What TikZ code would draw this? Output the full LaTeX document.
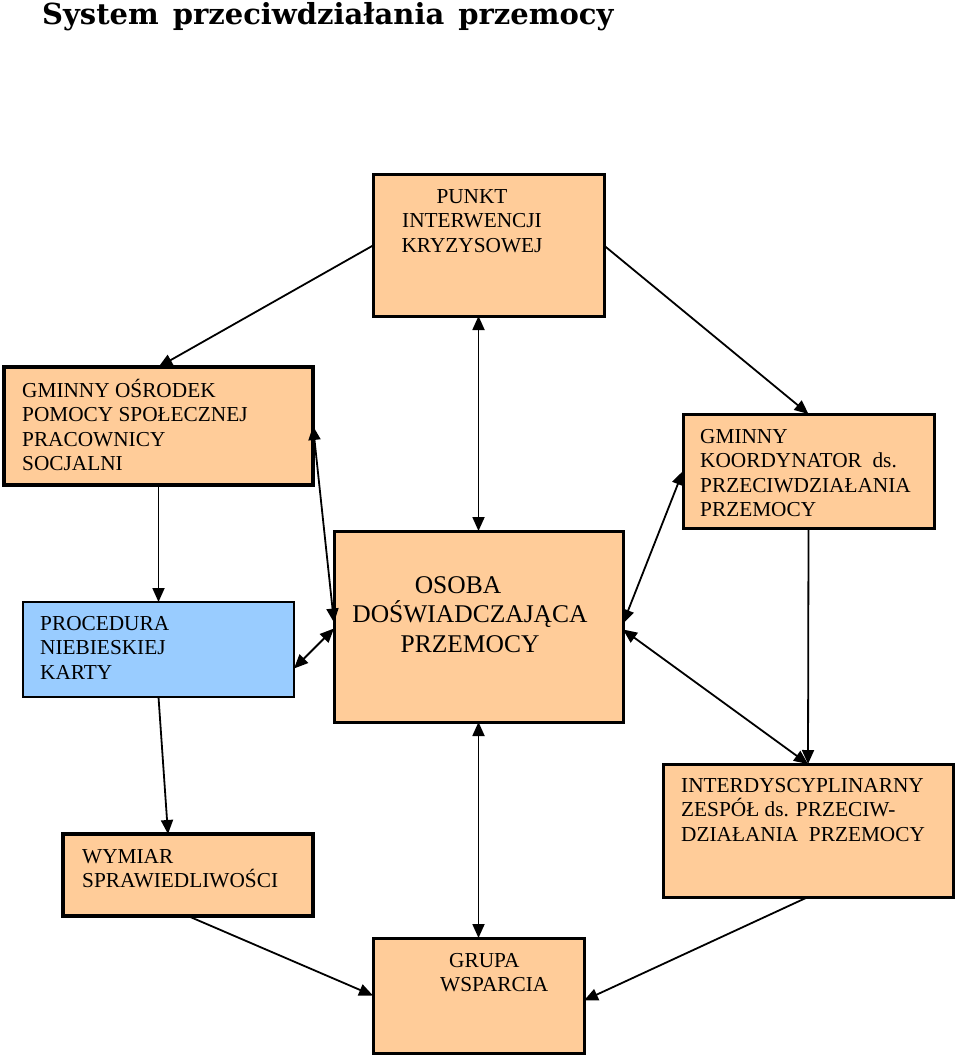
\documentclass[tikz,border=0pt]{standalone}
\usepackage{fontspec}
\setmainfont{Liberation Serif}
\newfontfamily\titlefont{DejaVu Serif}
\usetikzlibrary{arrows.meta,calc}
\definecolor{peach}{HTML}{FFCC99}
\definecolor{skyblue}{HTML}{99CCFF}
\begin{document}
\begin{tikzpicture}[x=1pt,y=-1pt,
  box/.style 2 args={draw=black, line width=3pt, fill=peach, inner sep=0pt, outer sep=0pt, minimum width=#1pt, minimum height=#2pt},
  txt/.style={inner sep=0pt, align=left, anchor=base west, font=\fontsize{21.3pt}{24.6pt}\selectfont},
  ctxt/.style={inner sep=0pt, align=center, anchor=base, font=\fontsize{21.3pt}{24.6pt}\selectfont},
  tip/.tip={Triangle[length=14pt,width=12pt]},
  arr/.style={line width=1.8pt, -tip},
  darr/.style={line width=1.8pt, tip-tip}]
\useasboundingbox (0,0) rectangle (960,1059);
% title
\node[inner sep=0pt, anchor=base west, font=\titlefont\bfseries\fontsize{29pt}{32pt}\selectfont] (title) at (42,25) {System\hspace{14pt}przeciwdziałania\hspace{14pt}przemocy};
% boxes
\node[box={231}{141}] (punkt) at (488.5,245.5) {};
\node[box={309}{118}, line width=4pt] (gops) at (158.5,426) {};
\node[box={251}{114}] (koord) at (808.5,471) {};
\node[box={271}{95}, line width=1.5pt, fill=skyblue] (proc) at (158.5,649.5) {};
\node[box={289}{191}] (osoba) at (478.5,626.5) {};
\node[box={290}{133}] (inter) at (808,830.5) {};
\node[box={250}{82}, line width=3.5pt] (wymiar) at (188,875) {};
\node[box={211}{115}] (grupa) at (478.5,995.5) {};
% texts (anchor = baseline of the last line)
\node[ctxt] (punktT) at (472,252.2) {PUNKT\\INTERWENCJI\\KRYZYSOWEJ};
\node[txt] (gopsT) at (22,470.8) {GMINNY OŚRODEK\\POMOCY SPOŁECZNEJ\\PRACOWNICY\\SOCJALNI};
\node[txt] (koordT) at (700,516.8) {GMINNY\\KOORDYNATOR\ \ ds.\\PRZECIWDZIAŁANIA\\PRZEMOCY};
\node[txt] (procT) at (40,679.2) {PROCEDURA\\NIEBIESKIEJ\\KARTY};
\node[ctxt, font=\fontsize{25.5pt}{29.5pt}\selectfont] (osobaT) at (470,652) {OSOBA\hspace*{24pt}\\DOŚWIADCZAJĄCA\\PRZEMOCY};
\node[txt] (interT) at (681,841.2) {INTERDYSCYPLINARNY\\ZESPÓŁ ds. PRZECIW-\\DZIAŁANIA\ \ PRZEMOCY};
\node[txt] (wymiarT) at (82,887.6) {WYMIAR\\SPRAWIEDLIWOŚCI};
\node[txt] (grupaT) at (440,991.6) {\hspace*{9pt}GRUPA\\WSPARCIA};
% connectors
\draw[arr] (punkt.west) -- (gops.north);
\draw[arr] (punkt.east) -- (koord.north);
\draw[darr] (osoba.north) -- (osoba.north |- punkt.south);
\draw[darr] (gops.east) -- ([yshift=4pt]osoba.west);
\draw[arr] (gops.south) -- (proc.north);
\coordinate (procR) at ($(proc.south east)!0.3!(proc.north east)$);
\draw[darr] (procR) -- ([yshift=-2pt]osoba.west);
\draw[darr] (koord.west) -- ([yshift=3pt]osoba.east);
\draw[darr] ([yshift=-3pt]osoba.east) -- (inter.north);
\draw[arr] (koord.south) -- (inter.north);
\coordinate (wymiarTop) at ([xshift=-20pt]wymiar.north);
\draw[arr] (proc.south) -- (wymiarTop);
\draw[darr] (osoba.south) -- (grupa.north);
\draw[arr] (wymiar.south) -- (grupa.west);
\draw[arr] (inter.south) -- ([yshift=-5pt]grupa.east);
\end{tikzpicture}
\end{document}
